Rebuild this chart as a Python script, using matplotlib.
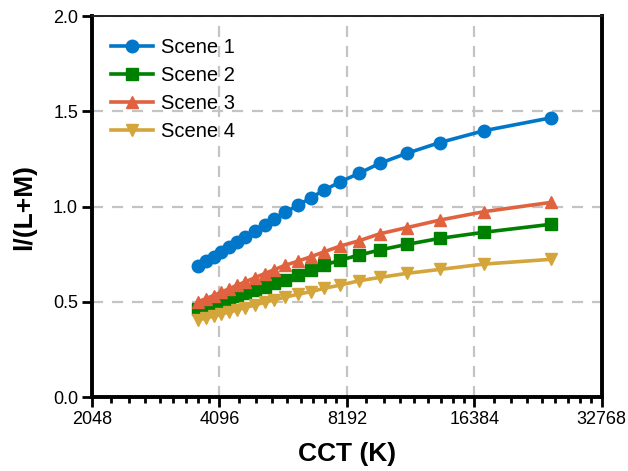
import numpy as np
import matplotlib.pyplot as plt
from matplotlib.ticker import FixedLocator, NullFormatter

plt.rcParams['font.family'] = ['Liberation Sans', 'DejaVu Sans']

# CCT sample points (K) shared by all scenes
cct = [3650, 3810, 3970, 4140, 4325, 4510, 4720, 4965, 5235, 5525, 5865,
       6275, 6725, 7255, 7915, 8745, 9805, 11340, 13595, 17275, 24930]

scene1 = [0.688, 0.714, 0.737, 0.763, 0.789, 0.815, 0.841, 0.871, 0.903, 0.934, 0.971,
          1.006, 1.045, 1.087, 1.130, 1.174, 1.227, 1.279, 1.336, 1.398, 1.466]
scene2 = [0.462, 0.476, 0.490, 0.503, 0.517, 0.531, 0.546, 0.562, 0.580, 0.598, 0.617,
          0.640, 0.668, 0.693, 0.719, 0.745, 0.772, 0.801, 0.833, 0.865, 0.907]
scene3 = [0.500, 0.517, 0.533, 0.551, 0.569, 0.587, 0.605, 0.626, 0.648, 0.669, 0.692,
          0.713, 0.736, 0.763, 0.793, 0.820, 0.857, 0.889, 0.929, 0.973, 1.022]
scene4 = [0.404, 0.415, 0.425, 0.436, 0.446, 0.457, 0.470, 0.483, 0.497, 0.510, 0.525,
          0.539, 0.553, 0.571, 0.588, 0.610, 0.628, 0.649, 0.670, 0.698, 0.723]

labels = ["Scene 1", "Scene 2", "Scene 3", "Scene 4"]
colors = ["#0077C8", "#008000", "#E0623F", "#D4A53A"]
markers = ["o", "s", "^", "v"]

x_ticks = [2048, 4096, 8192, 16384, 32768]
y_ticks = [0.0, 0.5, 1.0, 1.5, 2.0]

fig = plt.figure(figsize=(6.28, 4.71), dpi=100)
ax = fig.add_axes([0.1465, 0.157, 0.8115, 0.809])

for ys, lab, c, m in zip([scene1, scene2, scene3, scene4], labels, colors, markers):
    ax.plot(cct, ys, color=c, marker=m, markersize=9, linewidth=2.6, label=lab,
            clip_on=False, zorder=3)

ax.set_xscale('log', base=2)
ax.set_xlim(2048, 32768)
ax.set_ylim(0, 2.0)

ax.xaxis.set_major_locator(FixedLocator(x_ticks))
ax.set_xticklabels([str(t) for t in x_ticks])
minors = []
for lo in x_ticks[:-1]:
    minors += [lo * (1 + k / 9) for k in range(1, 9)]
ax.xaxis.set_minor_locator(FixedLocator(minors))
ax.xaxis.set_minor_formatter(NullFormatter())

ax.set_yticks(y_ticks)
ax.set_yticklabels([f"{t:.1f}" for t in y_ticks])

ax.grid(True, which='major', color='#c4c4c4', linestyle=(0, (5, 4)), linewidth=1.6, zorder=0)
ax.set_axisbelow(True)

for side in ['left', 'bottom', 'right']:
    ax.spines[side].set_linewidth(2.8)
    ax.spines[side].set_color('black')
ax.spines['top'].set_linewidth(1.4)
ax.spines['top'].set_color('#222222')

ax.tick_params(axis='both', which='major', direction='out', length=7, width=2,
               labelsize=13, colors='black', pad=3)
ax.tick_params(axis='x', which='minor', direction='out', length=4, width=2)

ax.set_xlabel("CCT (K)", fontsize=19, fontweight='bold', labelpad=10)
ax.set_ylabel("l/(L+M)", fontsize=19, fontweight='bold', labelpad=12)

ax.legend(loc='upper left', frameon=False, fontsize=14.5, handlelength=2.1,
          handletextpad=0.4, borderaxespad=0.4, labelspacing=0.45,
          bbox_to_anchor=(0.005, 0.985))

fig.savefig("out.png", dpi=100)
